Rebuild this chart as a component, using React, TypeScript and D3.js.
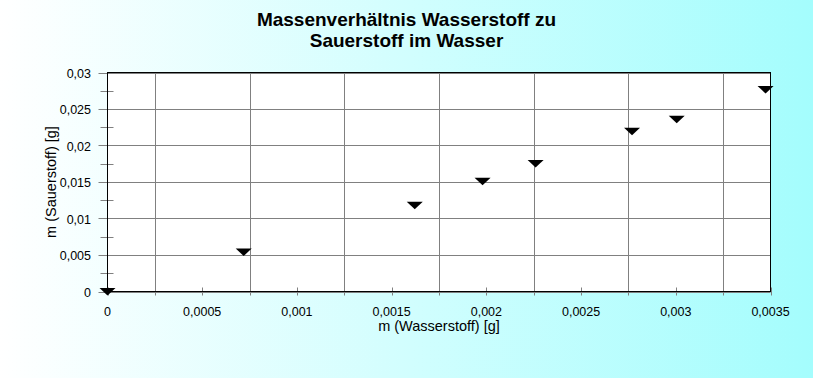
import React from "react";
import * as d3 from "d3";

const titleLines = ["Massenverhältnis Wasserstoff zu", "Sauerstoff im Wasser"];
const xTitle = "m (Wasserstoff) [g]";
const yTitle = "m (Sauerstoff) [g]";

const hydrogen = [0, 0.000719, 0.001622, 0.00198, 0.00226, 0.002769, 0.003005, 0.003474];
const oxygen = [0, 0.00541, 0.01182, 0.01511, 0.01753, 0.02195, 0.0236, 0.02767];

const xLabelTicks = [0, 0.0005, 0.001, 0.0015, 0.002, 0.0025, 0.003, 0.0035];
const xGridTicks = [0.00025, 0.00075, 0.00125, 0.00175, 0.00225, 0.00275, 0.00325];
const yLabelTicks = [0, 0.005, 0.01, 0.015, 0.02, 0.025, 0.03];
const yMinorTicks = [0.0025, 0.0075, 0.0125, 0.0175, 0.0225, 0.0275];

const W = 813;
const H = 378;
const left = 107.5;
const right = 770.5;
const top = 72.5;
const bottom = 291.5;

const fmt = (v: number) => (v === 0 ? "0" : String(+v.toPrecision(6)).replace(".", ","));

export default function App() {
  const x = d3.scaleLinear().domain([0, 0.0035]).range([left, right]);
  const y = d3.scaleLinear().domain([0, 0.03]).range([bottom, top]);
  const font = "'Liberation Sans', Arial, sans-serif";
  const grid = "#808080";
  const tri = (cx: number, cy: number) =>
    `M${cx - 8},${cy - 3.5} L${cx + 8},${cy - 3.5} L${cx},${cy + 4} Z`;

  return (
    <svg width={W} height={H} style={{ position: "absolute", left: 0, top: 0, display: "block" }}>
      <defs>
        <linearGradient id="bg" x1="0" y1="0" x2="1" y2="0">
          <stop offset="0" stopColor="#ffffff" />
          <stop offset="1" stopColor="#a4fdfd" />
        </linearGradient>
      </defs>
      <rect x={0} y={0} width={W} height={H} fill="url(#bg)" />
      {titleLines.map((t, i) => (
        <text key={i} x={W / 2} y={25.5 + i * 21.5} textAnchor="middle" fontFamily={font}
          fontWeight="bold" fontSize={19} fill="#000">{t}</text>
      ))}
      <rect x={left} y={top} width={right - left} height={bottom - top} fill="#fff" />
      {xGridTicks.map((v) => (
        <line key={"xg" + v} x1={Math.round(x(v)) + 0.5} x2={Math.round(x(v)) + 0.5} y1={top} y2={bottom + 4} stroke={grid} />
      ))}
      {xLabelTicks.map((v) => (
        <line key={"xm" + v} x1={Math.round(x(v)) + 0.5} x2={Math.round(x(v)) + 0.5} y1={bottom - 4} y2={bottom + 4} stroke={grid} />
      ))}
      {yLabelTicks.map((v) => (
        <line key={"yg" + v} x1={left - 9} x2={right} y1={Math.round(y(v)) + 0.5} y2={Math.round(y(v)) + 0.5} stroke={grid} />
      ))}
      {yMinorTicks.map((v) => (
        <line key={"ym" + v} x1={left - 7} x2={left + 6} y1={Math.round(y(v)) + 0.5} y2={Math.round(y(v)) + 0.5} stroke={grid} />
      ))}
      <rect x={left} y={top} width={right - left} height={bottom - top} fill="none" stroke="#000" />
      {xLabelTicks.map((v) => (
        <text key={"xl" + v} x={x(v)} y={316} textAnchor="middle" fontFamily={font} fontSize={12.5} fill="#000">{fmt(v)}</text>
      ))}
      {yLabelTicks.map((v) => (
        <text key={"yl" + v} x={91} y={y(v) + 5} textAnchor="end" fontFamily={font} fontSize={12.5} fill="#000">{fmt(v)}</text>
      ))}
      <text x={(left + right) / 2} y={331} textAnchor="middle" fontFamily={font} fontSize={14.5} fill="#000">{xTitle}</text>
      <text transform={`translate(56,${(top + bottom) / 2}) rotate(-90)`} textAnchor="middle" fontFamily={font} fontSize={14.5} fill="#000">{yTitle}</text>
      {hydrogen.map((h, i) => (
        <path key={"p" + i} d={tri(x(h), y(oxygen[i]))} fill="#000" />
      ))}
    </svg>
  );
}
